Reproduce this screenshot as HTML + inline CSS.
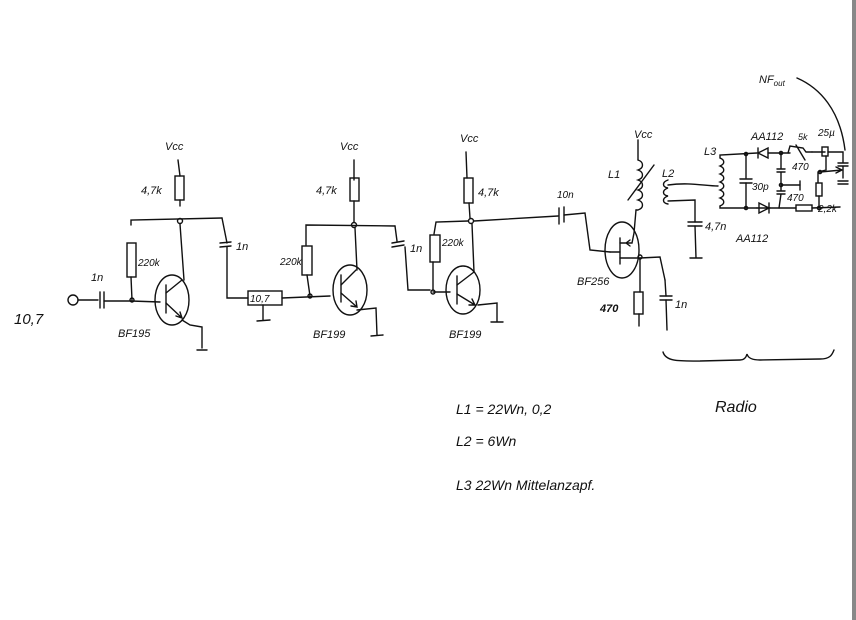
<!DOCTYPE html>
<html><head><meta charset="utf-8"><style>
html,body{margin:0;padding:0;background:#fff;}
svg{display:block;}
text{font-family:"Liberation Sans",sans-serif;font-style:italic;fill:#111;}
</style></head><body>
<svg width="856" height="620" viewBox="0 0 856 620" xmlns="http://www.w3.org/2000/svg">
<rect x="0" y="0" width="856" height="620" fill="#fff"/>
<rect x="852" y="0" width="4" height="620" fill="#888"/>
<g stroke="#111" stroke-width="1.4" fill="none" stroke-linecap="round">
<!-- Stage 1 -->
<line x1="178" y1="160" x2="180" y2="176"/>
<rect x="175" y="176" width="9" height="24"/>
<line x1="180" y1="200" x2="180" y2="206"/>
<circle cx="180" cy="221" r="2.5"/>
<path d="M131 225 L131 220 L222 218"/>
<line x1="180" y1="224" x2="184" y2="280"/>
<rect x="127" y="243" width="9" height="34"/>
<line x1="131" y1="277" x2="132" y2="300"/>
<circle cx="73" cy="300" r="5"/>
<line x1="78" y1="300" x2="98" y2="300"/>
<line x1="100" y1="292" x2="100" y2="308"/>
<line x1="104" y1="292" x2="104" y2="308"/>
<path d="M104 301 L131 301 L160 302"/>
<circle cx="132" cy="300" r="2"/>
<ellipse cx="172" cy="300" rx="17" ry="25"/>
<line x1="166" y1="285" x2="166" y2="313"/>
<path d="M166 293 L182 280"/>
<path d="M166 303 L182 318 M176 316 L182 318 L180 312"/>
<path d="M182 320 L190 325 L202 327 L202 348 M197 350 L207 350"/>
<!-- coupling cap 1 -->
<path d="M222 218 L227 243"/>
<line x1="220" y1="243" x2="231" y2="242"/>
<line x1="220" y1="247" x2="231" y2="246"/>
<path d="M227 247 L227 298 L248 298"/>
<rect x="248" y="291" width="34" height="14"/>
<path d="M263 305 L263 320 M257 321 L270 320"/>
<path d="M282 298 L330 296"/>
<circle cx="310" cy="296" r="2"/>
<!-- Stage 2 -->
<line x1="354" y1="160" x2="354" y2="180"/>
<rect x="350" y="178" width="9" height="23"/>
<line x1="354" y1="201" x2="354" y2="222"/>
<circle cx="354" cy="225" r="2.5"/>
<path d="M306 245 L306 225 L395 226"/>
<line x1="355" y1="228" x2="357" y2="270"/>
<rect x="302" y="246" width="10" height="29"/>
<line x1="307" y1="275" x2="310" y2="296"/>
<ellipse cx="350" cy="290" rx="17" ry="25"/>
<line x1="341" y1="275" x2="341" y2="302"/>
<path d="M341 285 L356 270 M341 293 L357 307 M351 306 L357 307 L356 301"/>
<path d="M357 310 L376 308 L377 335 M371 336 L383 335"/>
<path d="M395 226 L397 241"/>
<line x1="392" y1="243" x2="404" y2="241"/>
<line x1="392" y1="247" x2="404" y2="245"/>
<path d="M405 247 L408 290 L430 290"/>
<!-- Stage 3 -->
<line x1="466" y1="152" x2="467" y2="178"/>
<rect x="464" y="178" width="9" height="25"/>
<line x1="469" y1="203" x2="470" y2="218"/>
<circle cx="471" cy="221" r="2.5"/>
<path d="M434 234 L436 222 L468 221"/>
<path d="M474 221 L558 216"/>
<line x1="472" y1="224" x2="474" y2="272"/>
<rect x="430" y="235" width="10" height="27"/>
<line x1="433" y1="262" x2="433" y2="290"/>
<circle cx="433" cy="292" r="2"/>
<line x1="433" y1="292" x2="450" y2="292"/>
<ellipse cx="463" cy="290" rx="17" ry="24"/>
<line x1="457" y1="276" x2="457" y2="304"/>
<path d="M457 285 L474 272 M457 294 L475 305 M469 305 L475 305 L472 299"/>
<path d="M478 305 L497 303 L497 322 M491 322 L503 322"/>
<!-- 10n cap -->
<line x1="559" y1="208" x2="559" y2="224"/>
<line x1="564" y1="207" x2="564" y2="222"/>
<path d="M564 215 L585 213 L590 250 L610 252"/>
<!-- JFET -->
<ellipse cx="622" cy="250" rx="17" ry="28"/>
<line x1="610" y1="252" x2="620" y2="252"/>
<line x1="620" y1="238" x2="620" y2="264"/>
<path d="M620 243 L632 243 L634 233 L636 210 M626 243 L630 240 M626 243 L630 246"/>
<path d="M620 258 L640 258 L660 257 L665 280"/>
<circle cx="640" cy="257" r="2"/>
<path d="M638 140 L638 160"/>
<path d="M638 160 c6 2 6 8 0 10 c6 2 6 8 0 10 c6 2 6 8 0 10 c6 2 6 8 0 10 c6 2 6 8 0 10 L636 210"/>
<path d="M628 200 L654 165"/>
<line x1="640" y1="258" x2="640" y2="292"/>
<rect x="634" y="292" width="9" height="22"/>
<path d="M639 314 L639 326"/>
<line x1="660" y1="296" x2="672" y2="296"/>
<line x1="660" y1="300" x2="672" y2="300"/>
<path d="M665 280 L666 296 M666 300 L667 330"/>
<!-- L2 -->
<path d="M668 180 c-6 2 -6 7 0 8 c-6 2 -6 7 0 8 c-6 2 -6 7 0 8"/>
<path d="M668 185 C690 182 705 186 718 186"/>
<path d="M668 201 L695 200 L695 222"/>
<line x1="688" y1="222" x2="702" y2="222"/>
<line x1="688" y1="226" x2="702" y2="226"/>
<path d="M695 226 L696 258 M690 258 L702 258"/>
<!-- L3 -->
<path d="M720 158 c5 2 5 6 0 8 c5 2 5 6 0 8 c5 2 5 6 0 8 c5 2 5 6 0 8 c5 2 5 6 0 8 c5 2 5 6 0 8"/>
<path d="M720 158 L720 155 L757 153"/>
<path d="M720 206 L720 208 L757 208"/>
<circle cx="746" cy="154" r="1.6"/>
<circle cx="746" cy="208" r="1.6"/>
<line x1="746" y1="154" x2="746" y2="178"/>
<line x1="740" y1="179" x2="752" y2="179"/>
<line x1="740" y1="183" x2="752" y2="183"/>
<line x1="746" y1="183" x2="746" y2="208"/>
<!-- top diode (pointing left) -->
<path d="M758 153 L768 148 L768 158 Z M758 148 L758 158"/>
<path d="M768 153 L790 153"/>
<circle cx="781" cy="153" r="1.6"/>
<path d="M781 153 L781 168 M777 169 L785 169 M777 172 L785 172 M781 172 L781 185 L800 185 M781 185 L781 190 M777 191 L785 191 M777 194 L785 194 M781 194 L779 208"/>
<circle cx="781" cy="185" r="1.6"/>
<line x1="800" y1="181" x2="800" y2="190"/>
<!-- pot 5k -->
<path d="M788 153 L790 146 L803 148 L806 152 L812 152 M796 145 L805 160"/>
<path d="M812 152 L825 152"/>
<rect x="822" y="147" width="6" height="9"/>
<path d="M826 156 L826 170 L818 172 L818 183"/>
<rect x="816" y="183" width="6" height="13"/>
<path d="M819 196 L819 208"/>
<circle cx="820" cy="172" r="1.6"/>
<path d="M820 172 L842 170 M836 167 L842 170 L836 173"/>
<path d="M828 152 L843 152 L843 162 M838 163 L848 163 M838 166 L848 166 M843 166 L843 178 M838 181 L848 181 M838 184 L848 184"/>
<!-- bottom diode pointing right -->
<path d="M757 208 L770 208 M759 203 L759 213 L769 208 Z M769 203 L769 213"/>
<path d="M770 208 L796 208"/>
<rect x="796" y="205" width="16" height="6"/>
<path d="M812 208 L840 207"/>
<circle cx="819" cy="208" r="1.6"/>
<!-- NF out curve -->
<path d="M797 78 C820 88 840 110 845 150"/>
<!-- brace -->
<path d="M663 352 C666 362 680 361 700 361 L740 360 C744 360 746 358 747 354 C748 358 752 360 760 360 L820 359 C830 359 832 355 834 350"/>
</g>
<g font-size="11">
<text x="165" y="150">Vcc</text>
<text x="141" y="194">4,7k</text>
<text x="138" y="266" font-size="10">220k</text>
<text x="91" y="281">1n</text>
<text x="14" y="324" font-size="15">10,7</text>
<text x="118" y="337">BF195</text>
<text x="236" y="250">1n</text>
<text x="250" y="302" font-size="10">10,7</text>
<text x="340" y="150">Vcc</text>
<text x="316" y="194">4,7k</text>
<text x="280" y="265" font-size="10">220k</text>
<text x="313" y="338">BF199</text>
<text x="410" y="252">1n</text>
<text x="460" y="142">Vcc</text>
<text x="478" y="196">4,7k</text>
<text x="442" y="246" font-size="10">220k</text>
<text x="449" y="338">BF199</text>
<text x="557" y="198" font-size="10">10n</text>
<text x="634" y="138">Vcc</text>
<text x="608" y="178">L1</text>
<text x="662" y="177">L2</text>
<text x="577" y="285">BF256</text>
<text x="600" y="312" font-weight="bold">470</text>
<text x="675" y="308">1n</text>
<text x="705" y="230">4,7n</text>
<text x="736" y="242">AA112</text>
<text x="704" y="155">L3</text>
<text x="751" y="140">AA112</text>
<text x="752" y="190" font-size="10">30p</text>
<text x="798" y="140" font-size="9">5k</text>
<text x="818" y="136" font-size="10">25µ</text>
<text x="792" y="170" font-size="10">470</text>
<text x="787" y="201" font-size="10">470</text>
<text x="818" y="212" font-size="10">2,2k</text>
<text x="759" y="83">NF<tspan font-size="8" dy="3">out</tspan></text>
<text x="715" y="412" font-size="16">Radio</text>
<text x="456" y="414" font-size="14">L1 = 22Wn, 0,2</text>
<text x="456" y="446" font-size="14">L2 = 6Wn</text>
<text x="456" y="490" font-size="14">L3  22Wn Mittelanzapf.</text>
</g>
</svg>
</body></html>
